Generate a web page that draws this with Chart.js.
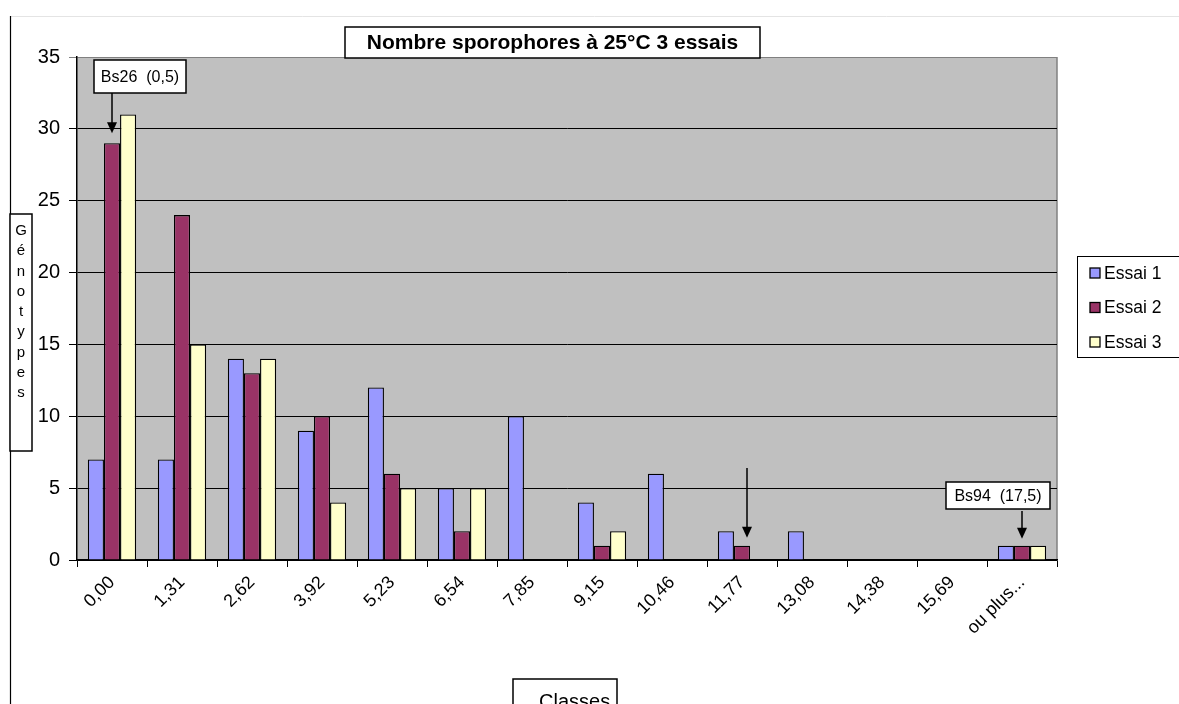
<!DOCTYPE html>
<html><head><meta charset="utf-8">
<script src="https://cdn.jsdelivr.net/npm/chart.js@4"></script>
<style>html,body{margin:0;padding:0;background:#fff}#wrap{width:1179px;height:704px;position:relative}</style>
</head><body><div id="wrap"><canvas id="c" width="1179" height="704"></canvas></div>
<script>
const categories = ["0,00","1,31","2,62","3,92","5,23","6,54","7,85","9,15","10,46","11,77","13,08","14,38","15,69","ou plus..."];
const essai1 = [7,7,14,9,12,5,10,4,6,2,2,0,0,1];
const essai2 = [29,24,13,10,6,2,0,1,0,1,0,0,0,1];
const essai3 = [31,15,14,4,5,5,0,2,0,0,0,0,0,1];
const seriesNames = ["Essai 1","Essai 2","Essai 3"];
const seriesColors = ["#9999FF","#993366","#FFFFCC"];
const yTicks = [0,5,10,15,20,25,30,35];
const titleText = "Nombre sporophores à 25°C 3 essais";
const yTitle = "Génotypes";
const xTitle = "Classes";
const FONT = "'Liberation Sans', Arial, sans-serif";

function arrow(ctx, x1, y1, x2, y2) {
  ctx.save();
  ctx.strokeStyle = "#000"; ctx.fillStyle = "#000"; ctx.lineWidth = 1.5;
  ctx.beginPath(); ctx.moveTo(x1, y1); ctx.lineTo(x2, y2 - 6); ctx.stroke();
  ctx.beginPath(); ctx.moveTo(x2, y2); ctx.lineTo(x2 - 5, y2 - 11); ctx.lineTo(x2 + 5, y2 - 11); ctx.closePath(); ctx.fill();
  ctx.restore();
}
function boxText(ctx, text, x, y, w, h, font, lw, tx) {
  ctx.save();
  ctx.fillStyle = "#fff"; ctx.fillRect(x, y, w, h);
  ctx.strokeStyle = "#000"; ctx.lineWidth = lw || 1.5; ctx.strokeRect(x, y, w, h);
  ctx.fillStyle = "#000"; ctx.font = font; ctx.textBaseline = "middle";
  if (tx !== undefined) { ctx.textAlign = "left"; ctx.fillText(text, tx, y + h / 2 + 1); }
  else { ctx.textAlign = "center"; ctx.fillText(text, x + w / 2, y + h / 2 + 1); }
  ctx.restore();
}

const decor = {
  id: "decor",
  beforeDraw(chart) {
    const ctx = chart.ctx, a = chart.chartArea;
    ctx.save();
    ctx.fillStyle = "#fff"; ctx.fillRect(0, 0, chart.width, chart.height);
    ctx.fillStyle = "#C0C0C0"; ctx.fillRect(a.left, a.top, a.right - a.left, a.bottom - a.top);
    ctx.strokeStyle = "#808080"; ctx.lineWidth = 1.5;
    ctx.beginPath(); ctx.moveTo(a.right, a.top); ctx.lineTo(a.right, a.bottom); ctx.stroke();
    ctx.strokeStyle = "#e4e4e4"; ctx.lineWidth = 1;
    ctx.beginPath(); ctx.moveTo(10, 16.5); ctx.lineTo(chart.width, 16.5); ctx.stroke();
    ctx.strokeStyle = "#000"; ctx.lineWidth = 1.2;
    ctx.beginPath(); ctx.moveTo(10.5, 16); ctx.lineTo(10.5, chart.height); ctx.stroke();
    ctx.restore();
  },
  afterDraw(chart) {
    const ctx = chart.ctx;
    boxText(ctx, titleText, 345, 27, 415, 31, "bold 21px " + FONT, 1.5);
    ctx.save();
    ctx.fillStyle = "#fff"; ctx.fillRect(10, 214, 22, 237);
    ctx.strokeStyle = "#000"; ctx.lineWidth = 1.5; ctx.strokeRect(10, 214, 22, 237);
    ctx.fillStyle = "#000"; ctx.font = "15px " + FONT; ctx.textAlign = "center"; ctx.textBaseline = "middle";
    Array.from(yTitle).forEach((ch, i) => ctx.fillText(ch, 21, 231 + i * 20.25));
    ctx.restore();
    boxText(ctx, xTitle, 513, 679, 104, 44, "20px " + FONT, 1.5, 539);
    // legend
    ctx.save();
    ctx.fillStyle = "#fff"; ctx.fillRect(1077, 256, 110, 101);
    ctx.strokeStyle = "#000"; ctx.lineWidth = 1; ctx.strokeRect(1077.5, 256.5, 110, 101);
    ctx.font = "17.5px " + FONT; ctx.textBaseline = "middle"; ctx.textAlign = "left";
    seriesNames.forEach((n, i) => {
      const y = 273 + i * 34.5;
      ctx.fillStyle = seriesColors[i]; ctx.fillRect(1090, y - 5, 10, 10);
      ctx.strokeStyle = "#000"; ctx.lineWidth = 1.3; ctx.strokeRect(1090, y - 5, 10, 10);
      ctx.fillStyle = "#000"; ctx.fillText(n, 1104, y + 1);
    });
    ctx.restore();
    // annotations tied to bars
    const m2 = chart.getDatasetMeta(1);
    const b0 = m2.data[0];
    boxText(ctx, "Bs26  (0,5)", 94, 60, 92, 33, "16px " + FONT, 1.5);
    arrow(ctx, b0.x, 93, b0.x, b0.y - 10);
    const b9 = m2.data[9];
    arrow(ctx, b9.x + 5, 468, b9.x + 5, b9.y - 8);
    const b13 = m2.data[13];
    boxText(ctx, "Bs94  (17,5)", 946, 482, 104, 27, "16px " + FONT, 1.5);
    arrow(ctx, b13.x, 511, b13.x, b13.y - 7);
  }
};

new Chart(document.getElementById("c"), {
  type: "bar",
  data: {
    labels: categories,
    datasets: [essai1, essai2, essai3].map((d, i) => ({
      label: seriesNames[i], data: d, backgroundColor: seriesColors[i],
      borderColor: "#000", borderWidth: 1.3, barPercentage: 1, categoryPercentage: 0.69
    }))
  },
  options: {
    responsive: false, animation: false, devicePixelRatio: 1,
    layout: { padding: { left: 0, right: 122, top: 57, bottom: 0 } },
    plugins: { legend: { display: false }, tooltip: { enabled: false }, title: { display: false } },
    scales: {
      x: {
        offset: true,
        grid: { display: true, drawOnChartArea: false, offset: true, color: "#000", tickLength: 7, lineWidth: 1 },
        border: { color: "#000", width: 1.5 },
        ticks: { color: "#000", font: { family: FONT, size: 18 }, maxRotation: 45, minRotation: 45, padding: 5, autoSkip: false },
        afterFit(s) { s.height = 144; }
      },
      y: {
        min: 0, max: 35,
        afterBuildTicks(s) { s.ticks = yTicks.map(v => ({ value: v })); },
        grid: { color: (c) => c.tick && c.tick.value === 35 ? "#808080" : "#000", tickLength: 8, lineWidth: 1 },
        border: { color: "#000", width: 1.5 },
        ticks: { color: "#000", font: { family: FONT, size: 20 }, padding: 9 },
        afterFit(s) { s.width = 77; }
      }
    }
  },
  plugins: [decor]
});
</script></body></html>
